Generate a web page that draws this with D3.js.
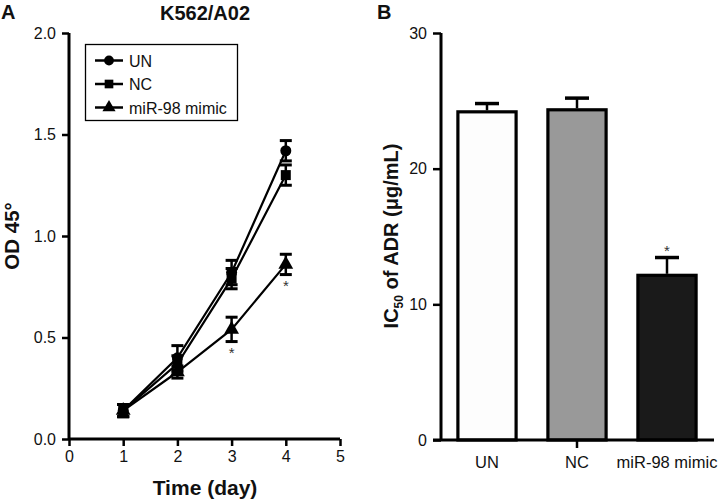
<!DOCTYPE html>
<html><head><meta charset="utf-8">
<script src="https://cdnjs.cloudflare.com/ajax/libs/d3/7.8.5/d3.min.js"></script>
<style>body{margin:0;background:#fff}svg{font-family:"Liberation Sans",Arial,sans-serif}</style>
</head><body><svg id="c" width="719" height="501"></svg>
<script>
// Panel A data
const days = [1, 2, 3, 4];
const seriesNames = ["UN", "NC", "miR-98 mimic"];
const unVals = [0.14, 0.40, 0.82, 1.42];
const unErr = [0.03, 0.06, 0.06, 0.05];
const ncVals = [0.14, 0.37, 0.79, 1.30];
const ncErr = [0.03, 0.04, 0.05, 0.05];
const mirVals = [0.14, 0.33, 0.54, 0.86];
const mirErr = [0.03, 0.03, 0.06, 0.05];
const xTicksA = [0, 1, 2, 3, 4, 5];
const yTicksA = [0, 0.5, 1.0, 1.5, 2.0];
const starDaysA = [3, 4];
// Panel B data
const groups = ["UN", "NC", "miR-98 mimic"];
const ic50 = [24.3, 24.45, 12.25];
const ic50Err = [0.5, 0.75, 1.2];
const yTicksB = [0, 10, 20, 30];

const svg = d3.select("#c");
const TICKFS = 16;

// ---------- Panel A ----------
const xA = d3.scaleLinear().domain([0, 5]).range([69, 340]);
const yA = d3.scaleLinear().domain([0, 2]).range([439, 33]);
const gA = svg.append("g");

gA.append("g").attr("transform", "translate(0,439)")
  .call(d3.axisBottom(xA).tickValues(xTicksA).tickFormat(d3.format("d")).tickSize(7).tickPadding(5))
  .call(g => { g.select(".domain").attr("stroke-width", 3).attr("d", "M69,0H340"); g.selectAll(".tick line").attr("stroke-width", 2.5); g.selectAll("text").attr("font-size", TICKFS).attr("fill", "#111"); });
gA.append("g").attr("transform", "translate(69,0)")
  .call(d3.axisLeft(yA).tickValues(yTicksA).tickFormat(d3.format(".1f")).tickSize(7).tickPadding(6))
  .call(g => { g.select(".domain").attr("stroke-width", 3).attr("d", "M0,33V439"); g.selectAll(".tick line").attr("stroke-width", 2.5); g.selectAll("text").attr("font-size", TICKFS).attr("fill", "#111"); });

const series = [
  {name: seriesNames[0], vals: unVals, err: unErr, sym: d3.symbolCircle, size: 95},
  {name: seriesNames[1], vals: ncVals, err: ncErr, sym: d3.symbolSquare, size: 100},
  {name: seriesNames[2], vals: mirVals, err: mirErr, sym: d3.symbolTriangle, size: 95}
];
const line = d3.line().x(d => xA(d.x)).y(d => yA(d.y));
series.forEach(s => {
  const pts = days.map((d, i) => ({x: d, y: s.vals[i], e: s.err[i]}));
  gA.append("path").datum(pts).attr("d", line).attr("fill", "none").attr("stroke", "#000").attr("stroke-width", 2.2);
  const eb = gA.append("g");
  pts.forEach(p => {
    const cx = xA(p.x);
    eb.append("line").attr("x1", cx).attr("x2", cx).attr("y1", yA(p.y - p.e)).attr("y2", yA(p.y + p.e)).attr("stroke", "#000").attr("stroke-width", 2.5);
    [p.y - p.e, p.y + p.e].forEach(v => eb.append("line").attr("x1", cx - 6).attr("x2", cx + 6).attr("y1", yA(v)).attr("y2", yA(v)).attr("stroke", "#000").attr("stroke-width", 3));
  });
  gA.selectAll(null).data(pts).enter().append("path")
    .attr("d", d3.symbol().type(s.sym).size(s.size))
    .attr("transform", d => `translate(${xA(d.x)},${yA(d.y)})`).attr("fill", "#000");
});
// asterisks
gA.selectAll(null).data(starDaysA).enter().append("text")
  .attr("x", d => xA(d)).attr("y", d => yA(mirVals[days.indexOf(d)] - mirErr[days.indexOf(d)]) + 16)
  .attr("text-anchor", "middle").attr("font-size", 15).attr("fill", "#333").text("*");

// legend
const lg = gA.append("g");
lg.append("rect").attr("x", 85.5).attr("y", 44.5).attr("width", 152).attr("height", 76).attr("fill", "#fff").attr("stroke", "#000").attr("stroke-width", 1.3);
series.forEach((s, i) => {
  const yy = 60.5 + i * 23.5;
  lg.append("line").attr("x1", 95).attr("x2", 123).attr("y1", yy).attr("y2", yy).attr("stroke", "#000").attr("stroke-width", 2.5);
  lg.append("path").attr("d", d3.symbol().type(s.sym).size(75)).attr("transform", `translate(109,${yy})`).attr("fill", "#000");
  lg.append("text").attr("x", 129).attr("y", yy + 6).attr("font-size", 16).attr("fill", "#111").text(s.name);
});

gA.append("text").attr("x", 205).attr("y", 20).attr("text-anchor", "middle").attr("font-size", 20).attr("font-weight", "bold").attr("fill", "#111").text("K562/A02");
gA.append("text").attr("x", 1).attr("y", 19).attr("font-size", 20).attr("font-weight", "bold").attr("fill", "#111").text("A");
gA.append("text").attr("x", 205).attr("y", 495).attr("text-anchor", "middle").attr("font-size", 21).attr("font-weight", "bold").attr("fill", "#111").text("Time (day)");
gA.append("text").attr("transform", "translate(19,236) rotate(-90)").attr("text-anchor", "middle").attr("font-size", 20.5).attr("font-weight", "bold").attr("fill", "#111").text("OD 45°");

// ---------- Panel B ----------
const xB = d3.scaleBand().domain(groups).range([442, 712]).paddingInner(0.32).paddingOuter(0.16);
const yB = d3.scaleLinear().domain([0, 30]).range([440, 33]);
const gB = svg.append("g");
const fills = ["#fdfdfd", "#999999", "#1a1a1a"];

gB.selectAll(null).data(groups).enter().append("line")
  .attr("x1", d => xB(d) + xB.bandwidth() / 2).attr("x2", d => xB(d) + xB.bandwidth() / 2)
  .attr("y1", (d, i) => yB(ic50[i])).attr("y2", (d, i) => yB(ic50[i] + ic50Err[i]))
  .attr("stroke", "#000").attr("stroke-width", 2.5);
gB.selectAll(null).data(groups).enter().append("line")
  .attr("x1", d => xB(d) + xB.bandwidth() / 2 - 12).attr("x2", d => xB(d) + xB.bandwidth() / 2 + 12)
  .attr("y1", (d, i) => yB(ic50[i] + ic50Err[i])).attr("y2", (d, i) => yB(ic50[i] + ic50Err[i]))
  .attr("stroke", "#000").attr("stroke-width", 3.5);
gB.selectAll(null).data(groups).enter().append("rect")
  .attr("x", d => xB(d) + 1.5).attr("width", xB.bandwidth() - 3)
  .attr("y", (d, i) => yB(ic50[i]) + 1.5).attr("height", (d, i) => yB(0) - yB(ic50[i]) - 1.5)
  .attr("fill", (d, i) => fills[i]).attr("stroke", "#000").attr("stroke-width", 3.2);

gB.append("g").attr("transform", "translate(441,0)")
  .call(d3.axisLeft(yB).tickValues(yTicksB).tickSize(8).tickPadding(6))
  .call(g => { g.select(".domain").attr("stroke-width", 3).attr("d", "M0,33V440"); g.selectAll(".tick line").attr("stroke-width", 2.5); g.selectAll("text").attr("font-size", TICKFS).attr("fill", "#111"); });
gB.append("g").attr("transform", "translate(0,440)")
  .call(d3.axisBottom(xB).tickSize(0).tickPadding(16))
  .call(g => { g.select(".domain").attr("stroke-width", 3).attr("d", "M433,0H714"); g.selectAll(".tick line").remove(); g.selectAll("text").attr("font-size", 16.5).attr("fill", "#111"); });
// single tick mark under middle category as in original
gB.append("line").attr("x1", xB(groups[1]) + xB.bandwidth() / 2).attr("x2", xB(groups[1]) + xB.bandwidth() / 2).attr("y1", 440).attr("y2", 448).attr("stroke", "#000").attr("stroke-width", 2.5);

gB.append("text").attr("x", xB(groups[2]) + xB.bandwidth() / 2).attr("y", yB(ic50[2] + ic50Err[2]) - 2)
  .attr("text-anchor", "middle").attr("font-size", 15).attr("fill", "#333").text("*");

gB.append("text").attr("x", 377).attr("y", 19).attr("font-size", 20).attr("font-weight", "bold").attr("fill", "#111").text("B");
const yl = gB.append("text").attr("transform", "translate(398,236) rotate(-90)").attr("text-anchor", "middle").attr("font-size", 20).attr("font-weight", "bold").attr("fill", "#111");
yl.append("tspan").text("IC");
yl.append("tspan").attr("font-size", 12).attr("dy", 5).text("50");
yl.append("tspan").attr("dy", -5).text(" of ADR (μg/mL)");
</script></body></html>
